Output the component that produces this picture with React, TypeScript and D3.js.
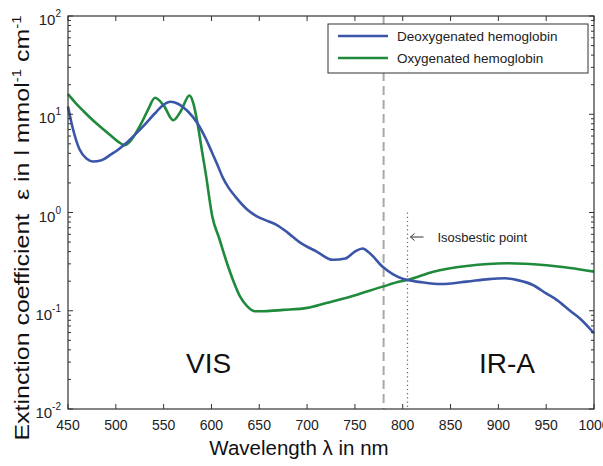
import React, { useEffect } from "react";
import * as d3 from "d3";

// wavelength (nm) / extinction values
const wlDeoxy = [450, 455, 462, 470, 476, 485, 495, 503, 510, 520, 530, 540, 550, 557, 565, 575, 585, 595, 600, 606, 612, 618, 625, 637, 647, 660, 668, 680, 692, 710, 727, 740, 750, 758, 765, 779, 790, 800, 805, 820, 840, 867, 890, 907, 920, 936, 950, 961, 975, 985, 1000];
const deoxy = [12, 7.2, 4.4, 3.5, 3.3, 3.4, 3.9, 4.4, 5.0, 6.2, 7.8, 10, 12.5, 13.4, 12.8, 10.8, 8.2, 5.4, 4.2, 3.1, 2.25, 1.78, 1.45, 1.08, 0.92, 0.81, 0.75, 0.62, 0.5, 0.4, 0.33, 0.34, 0.4, 0.43, 0.39, 0.28, 0.235, 0.212, 0.206, 0.195, 0.187, 0.198, 0.21, 0.214, 0.205, 0.183, 0.15, 0.129, 0.1, 0.084, 0.059];

const wlOxy = [450, 458, 466, 476, 485, 494, 502, 509, 515, 520, 527, 534, 541, 550, 560, 568, 577, 581, 586, 590, 594, 601, 608, 616, 623, 630, 637, 645, 655, 675, 700, 720, 745, 779, 797, 805, 832, 867, 909, 947, 975, 1000];
const oxy = [16, 13, 10.8, 8.7, 7.3, 6.15, 5.3, 4.85, 5.3, 6.2, 8.2, 11.3, 14.7, 12.3, 8.7, 10.8, 15.5, 13, 7.5, 4.3, 2.5, 0.9, 0.55, 0.31, 0.2, 0.139, 0.112, 0.099, 0.099, 0.102, 0.107, 0.12, 0.139, 0.176, 0.198, 0.206, 0.25, 0.285, 0.304, 0.292, 0.272, 0.25];

const xTicks = [450, 500, 550, 600, 650, 700, 750, 800, 850, 900, 950, 1000];
const yDecades = [-2, -1, 0, 1, 2];

const seriesNames = ["Deoxygenated hemoglobin", "Oxygenated hemoglobin"];
const colors = ["#3b55a8", "#1f8a3b"];

const visLine = 780;
const isoPoint = 805;

const W = 603;
const H = 466;
const margin = { top: 16, right: 9, bottom: 57, left: 68 };

export default function App() {
  useEffect(() => {
    document.body.style.margin = "0";
  }, []);

  const x = d3
    .scaleLinear()
    .domain([450, 1000])
    .range([margin.left, W - margin.right]);
  const y = d3
    .scaleLog()
    .domain([0.01, 100])
    .range([H - margin.bottom, margin.top]);

  const line = d3
    .line<[number, number]>()
    .x((d) => x(d[0]))
    .y((d) => y(d[1]))
    .curve(d3.curveMonotoneX);

  const deoxyPts = wlDeoxy.map((w, i) => [w, deoxy[i]] as [number, number]);
  const oxyPts = wlOxy.map((w, i) => [w, oxy[i]] as [number, number]);

  const x0 = x(450);
  const x1 = x(1000);
  const y0 = y(0.01);
  const y1 = y(100);

  // minor + major ticks on the log axis
  const yTicks = y.ticks();
  const isMajor = (v: number) => Math.abs(Math.log10(v) - Math.round(Math.log10(v))) < 1e-6;

  const font = "'Liberation Sans', Arial, sans-serif";
  const txt = "#222";

  return (
    <svg width={W} height={H} style={{ display: "block", background: "#fff" }} fontFamily={font}>
      {/* vertical markers */}
      <line x1={x(visLine)} x2={x(visLine)} y1={y1} y2={y0} stroke="#a8a8a8" strokeWidth={2} strokeDasharray="9,5" />
      <line x1={x(isoPoint)} x2={x(isoPoint)} y1={y(1)} y2={y0} stroke="#666" strokeWidth={1.2} strokeDasharray="1.2,3" />

      {/* curves */}
      <path d={line(oxyPts) || ""} fill="none" stroke={colors[1]} strokeWidth={2.6} />
      <path d={line(deoxyPts) || ""} fill="none" stroke={colors[0]} strokeWidth={2.6} />

      {/* frame */}
      <rect x={x0} y={y1} width={x1 - x0} height={y0 - y1} fill="none" stroke="#333" strokeWidth={1.2} />

      {/* x ticks */}
      {xTicks.map((t) => (
        <g key={"x" + t}>
          <line x1={x(t)} x2={x(t)} y1={y0} y2={y0 - 5} stroke="#333" />
          <line x1={x(t)} x2={x(t)} y1={y1} y2={y1 + 5} stroke="#333" />
          <text x={x(t)} y={y0 + 21} textAnchor="middle" fontSize={14} fill={txt}>
            {t}
          </text>
        </g>
      ))}

      {/* y ticks */}
      {yTicks.map((t, i) => {
        const len = isMajor(t) ? 5 : 3;
        return (
          <g key={"y" + i}>
            <line x1={x0} x2={x0 + len} y1={y(t)} y2={y(t)} stroke="#333" />
            <line x1={x1} x2={x1 - len} y1={y(t)} y2={y(t)} stroke="#333" />
          </g>
        );
      })}
      {yDecades.map((e) => (
        <text key={"yl" + e} x={x0 - 7} y={y(Math.pow(10, e)) + 9} textAnchor="end" fontSize={15} fill={txt}>
          10
          <tspan dy={-8} fontSize={10}>
            {e}
          </tspan>
        </text>
      ))}

      {/* axis labels */}
      <text x={299} y={H - 11} textAnchor="middle" fontSize={20.5} fill="#111">
        Wavelength λ in nm
      </text>
      <text
        transform={`translate(29,228) rotate(-90)`}
        textAnchor="middle"
        fontSize={20}
        fill="#111"
        textLength={425}
        lengthAdjust="spacingAndGlyphs"
      >
        {"Extinction coefficient \u00a0ε in l mmol"}
        <tspan dy={-8} fontSize={12}>-1</tspan>
        <tspan dy={8}> cm</tspan>
        <tspan dy={-8} fontSize={12}>-1</tspan>
      </text>

      {/* region labels */}
      <text x={x(597)} y={373} textAnchor="middle" fontSize={28} fill="#111">
        VIS
      </text>
      <text x={x(909)} y={373} textAnchor="middle" fontSize={28} fill="#111">
        IR-A
      </text>

      {/* isosbestic annotation */}
      <line x1={x(isoPoint) + 3} x2={x(isoPoint) + 16} y1={237} y2={237} stroke="#333" strokeWidth={1} />
      <path d={`M${x(isoPoint) + 7},233.5 L${x(isoPoint) + 3},237 L${x(isoPoint) + 7},240.5`} fill="none" stroke="#333" strokeWidth={1} />
      <text x={x(isoPoint) + 30} y={242} fontSize={13} fill={txt}>
        Isosbestic point
      </text>

      {/* legend */}
      <g transform="translate(328,24)">
        <rect width={260} height={49} fill="#fff" stroke="#333" strokeWidth={1} />
        {seriesNames.map((name, i) => (
          <g key={name} transform={`translate(0,${12 + i * 22})`}>
            <line x1={10} x2={60} y1={0} y2={0} stroke={colors[i]} strokeWidth={2.6} />
            <text x={69} y={5} fontSize={13.5} fill={txt}>
              {name}
            </text>
          </g>
        ))}
      </g>
    </svg>
  );
}
